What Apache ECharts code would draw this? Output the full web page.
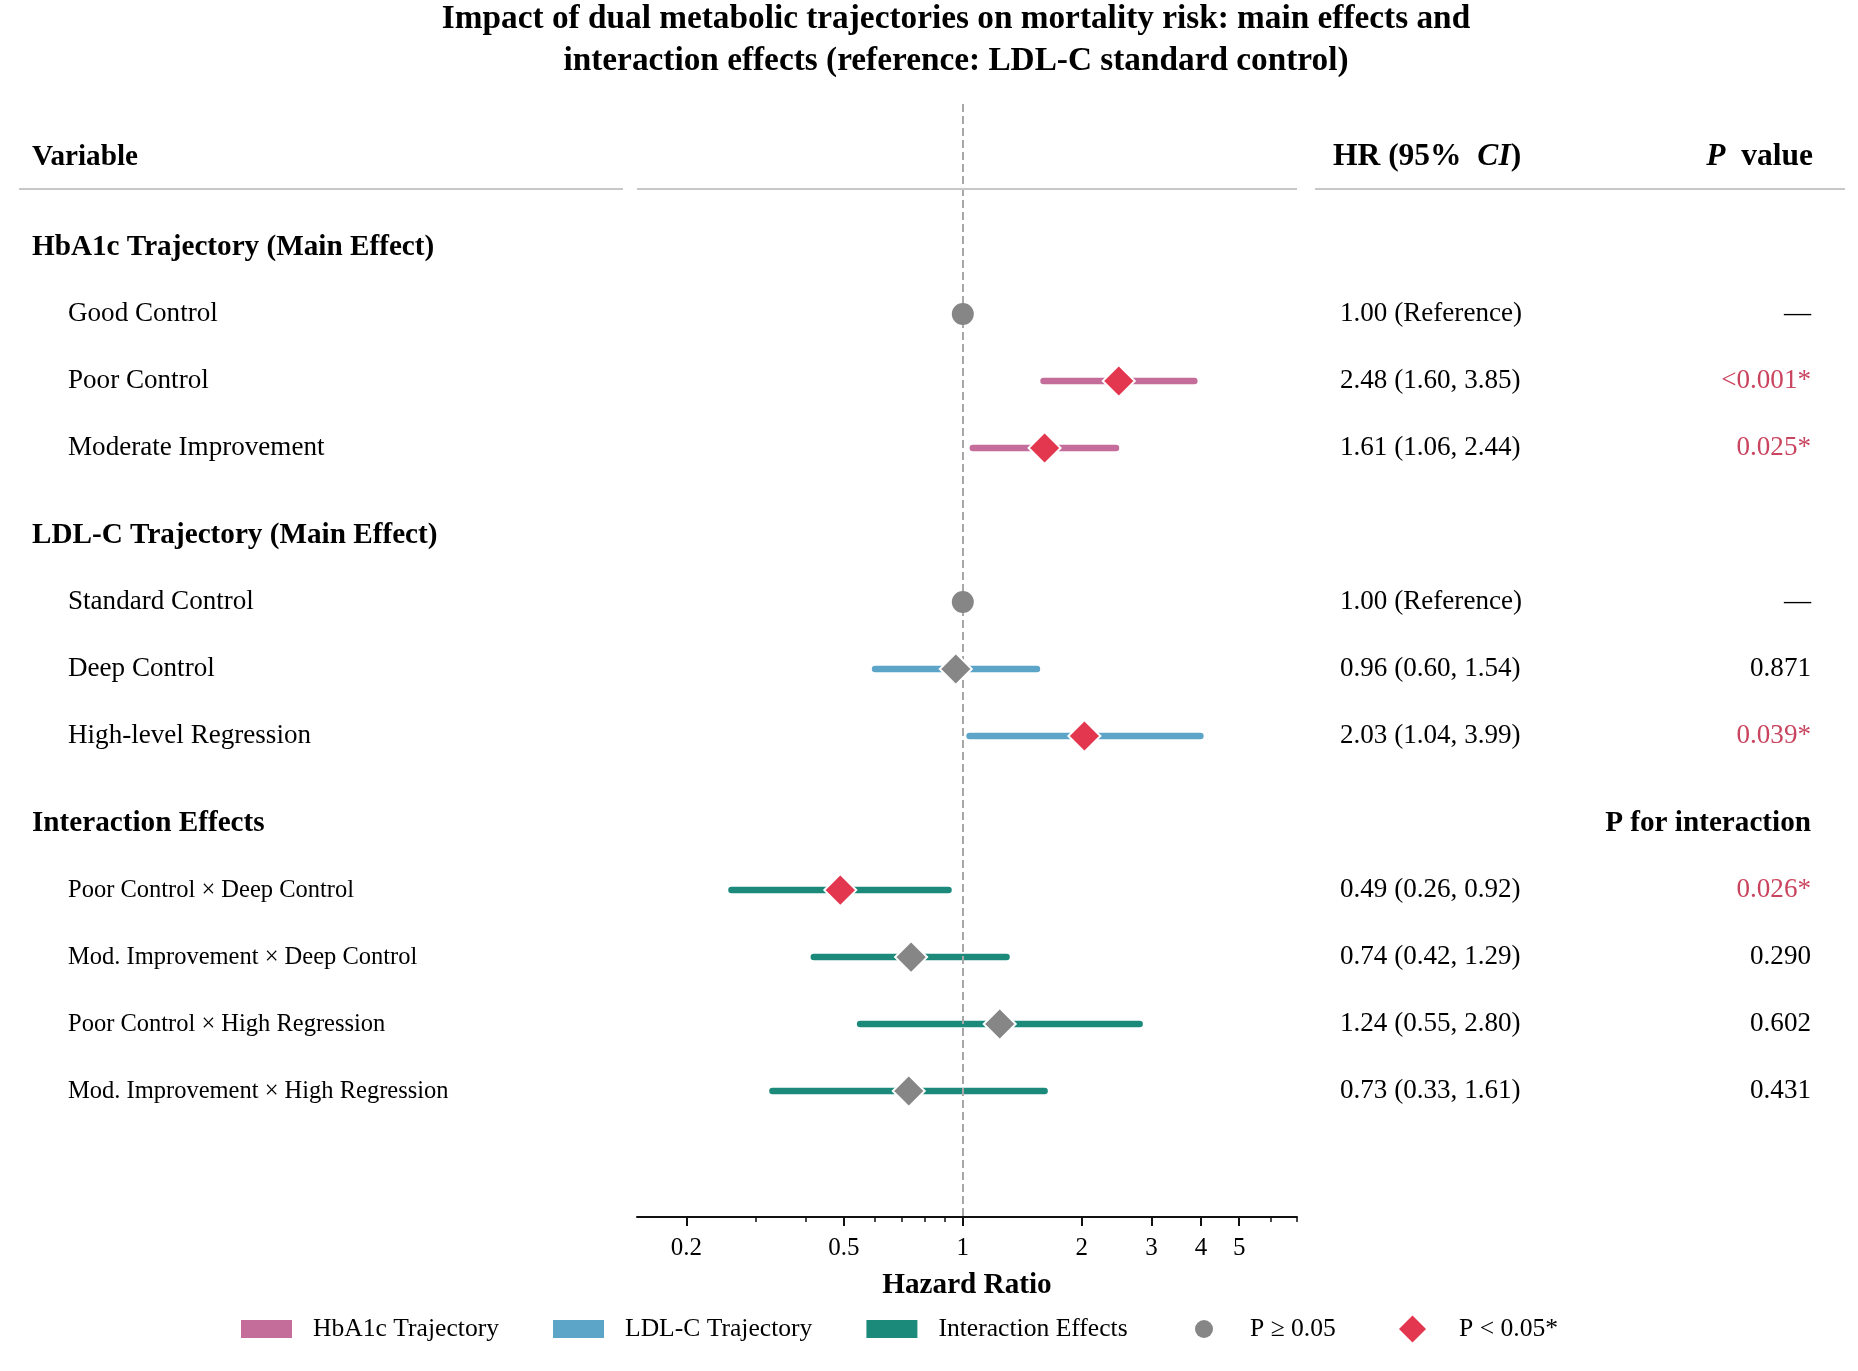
<!DOCTYPE html>
<html>
<head>
<meta charset="utf-8">
<title>Dual metabolic trajectories and mortality risk</title>
<script src="https://cdn.jsdelivr.net/npm/echarts@6/dist/echarts.min.js"></script>
<style>
  html, body { margin: 0; padding: 0; background: #fff; }
  #main { width: 1858px; height: 1371px; }
</style>
</head>
<body>
<div id="main"></div>
<script>
// ---- data ----
const groupNames = ['HbA1c Trajectory (Main Effect)', 'LDL-C Trajectory (Main Effect)', 'Interaction Effects'];
const legendNames = ['HbA1c Trajectory', 'LDL-C Trajectory', 'Interaction Effects'];
const groupColors = ['#c46c9a', '#5ca4c8', '#1b8a7b'];

const rowLabels = [
  'Good Control', 'Poor Control', 'Moderate Improvement',
  'Standard Control', 'Deep Control', 'High-level Regression',
  'Poor Control × Deep Control', 'Mod. Improvement × Deep Control',
  'Poor Control × High Regression', 'Mod. Improvement × High Regression'
];
const rowGroup = [0, 0, 0, 1, 1, 1, 2, 2, 2, 2];
const isReference = [true, false, false, true, false, false, false, false, false, false];
const hr = [1.00, 2.48, 1.61, 1.00, 0.96, 2.03, 0.49, 0.74, 1.24, 0.73];
const ciLow = [null, 1.60, 1.06, null, 0.60, 1.04, 0.26, 0.42, 0.55, 0.33];
const ciHigh = [null, 3.85, 2.44, null, 1.54, 3.99, 0.92, 1.29, 2.80, 1.61];
const pText = ['—', '<0.001*', '0.025*', '—', '0.871', '0.039*', '0.026*', '0.290', '0.602', '0.431'];
const significant = [false, true, true, false, false, true, true, false, false, false];

const majorTicks = [0.2, 0.5, 1, 2, 3, 4, 5];
const minorTicks = [0.3, 0.4, 0.6, 0.7, 0.8, 0.9, 6, 7];
const xRange = [0.15, 7];

// ---- layout helpers ----
const FONT = '"Liberation Serif", "Times New Roman", serif';
const INK = '#000';
const RED_TEXT = '#c9455f';
const HEAD_ROW = -1.34;
const HEAD_LINE = -0.866;

// vertical slots: header, then its rows, 1.3 gap before next header
const headerPos = [];
const rowPos = [];
(function () {
  let u = 0;
  groupNames.forEach((g, gi) => {
    headerPos.push(u);
    let last = u;
    rowLabels.forEach((r, i) => {
      if (rowGroup[i] === gi) { last += 1; rowPos[i] = last; }
    });
    u = last + 1.3;
  });
})();

const lg = Math.log10;
const yAxisBase = { type: 'value', min: -2.135, max: 14.48, inverse: true, show: false };
const headLine = () => ({
  silent: true, symbol: 'none', z: 1,
  label: { show: false },
  lineStyle: { color: '#c8c8c8', width: 2, type: 'solid' },
  data: [{ yAxis: HEAD_LINE }]
});

function boldRich(size) {
  return {
    b: { fontFamily: FONT, fontSize: size, fontWeight: 'bold', color: INK },
    bi: { fontFamily: FONT, fontSize: size, fontWeight: 'bold', fontStyle: 'italic', color: INK }
  };
}

// left column texts
const leftItems = [{
  value: [0, HEAD_ROW],
  label: { formatter: 'Variable', fontWeight: 'bold', fontSize: 29.2, distance: 13, color: INK }
}];
groupNames.forEach((g, gi) => {
  leftItems.push({
    value: [0, headerPos[gi]],
    label: { formatter: g, fontWeight: 'bold', fontSize: 29.2, distance: 13, color: INK }
  });
});
rowLabels.forEach((r, i) => {
  leftItems.push({
    value: [0, rowPos[i]],
    label: { formatter: r, fontSize: rowGroup[i] === 2 ? 24.5 : 27.1, distance: 49, color: INK }
  });
});

// right column texts
const rightItems = [
  {
    value: [0, HEAD_ROW],
    label: { position: 'right', distance: 18, formatter: '{b|HR (95%  }{bi|CI}{b|)}', rich: boldRich(31.5) }
  },
  {
    value: [1, HEAD_ROW],
    label: { position: 'left', distance: 32, formatter: '{bi|P}{b|  value}', rich: boldRich(31.5) }
  },
  {
    value: [1, headerPos[2]],
    label: { position: 'left', distance: 34, formatter: 'P for interaction', fontWeight: 'bold', fontSize: 29.2, color: INK }
  }
];
rowLabels.forEach((r, i) => {
  const t = isReference[i]
    ? hr[i].toFixed(2) + ' (Reference)'
    : hr[i].toFixed(2) + ' (' + ciLow[i].toFixed(2) + ', ' + ciHigh[i].toFixed(2) + ')';
  rightItems.push({
    value: [0, rowPos[i]],
    label: { position: 'right', distance: 25, formatter: t, fontSize: 27.1, color: INK }
  });
  rightItems.push({
    value: [1, rowPos[i]],
    label: {
      position: 'left', distance: 34, formatter: pText[i], fontSize: 27.1,
      color: significant[i] ? RED_TEXT : INK
    }
  });
});

// CI bars per group
const ciSeries = groupNames.map((g, gi) => ({
  name: legendNames[gi],
  type: 'custom',
  xAxisIndex: 1, yAxisIndex: 1,
  z: 2,
  silent: true,
  itemStyle: { color: groupColors[gi] },
  encode: { x: [0, 2], y: 1 },
  data: rowLabels.map((r, i) => i).filter(i => rowGroup[i] === gi && !isReference[i])
    .map(i => [lg(ciLow[i]), rowPos[i], lg(ciHigh[i])]),
  renderItem: function (params, api) {
    const a = api.coord([api.value(0), api.value(1)]);
    const b = api.coord([api.value(2), api.value(1)]);
    return {
      type: 'line',
      shape: { x1: a[0], y1: a[1], x2: b[0], y2: b[1] },
      style: { stroke: groupColors[gi], lineWidth: 6.5, lineCap: 'round' }
    };
  }
}));

const nsData = [];
const sigData = [];
rowLabels.forEach((r, i) => {
  const pt = [lg(hr[i]), rowPos[i]];
  if (significant[i]) {
    sigData.push({ value: pt });
  } else if (isReference[i]) {
    nsData.push({ value: pt, symbol: 'circle', symbolSize: 22 });
  } else {
    nsData.push({
      value: pt, symbol: 'diamond', symbolSize: 32,
      itemStyle: { borderColor: '#fff', borderWidth: 2 }
    });
  }
});

const legendText = { fontFamily: FONT, fontSize: 25.6, color: INK, lineHeight: 26 };

const chart = echarts.init(document.getElementById('main'));
const option = {
  animation: false,
  textStyle: { fontFamily: FONT, color: INK },
  graphic: [{
    type: 'text',
    x: 956, y: -2,
    style: {
      text: 'Impact of dual metabolic trajectories on mortality risk: main effects and\ninteraction effects (reference: LDL-C standard control)',
      font: 'bold 33.3px ' + FONT,
      fill: INK,
      align: 'center',
      verticalAlign: 'top',
      lineHeight: 42
    }
  }],
  grid: [
    { left: 19, top: 104, width: 604, height: 1113 },
    { left: 637, top: 104, width: 660, height: 1113 },
    { left: 1315, top: 104, width: 530, height: 1113 }
  ],
  xAxis: [
    { gridIndex: 0, type: 'value', min: 0, max: 1, show: false },
    {
      gridIndex: 1, type: 'value', position: 'bottom',
      min: lg(xRange[0]), max: lg(xRange[1]),
      splitLine: { show: false },
      axisLine: { show: true, onZero: false, lineStyle: { color: '#111', width: 2 } },
      axisTick: { show: true, customValues: majorTicks.map(lg), length: 9, lineStyle: { color: '#111', width: 2 } },
      axisLabel: {
        customValues: majorTicks.map(lg),
        fontSize: 25, color: INK, margin: 19, fontFamily: FONT,
        formatter: v => String(+Math.pow(10, v).toFixed(2))
      },
      name: 'Hazard Ratio',
      nameLocation: 'middle',
      nameGap: 54,
      nameTextStyle: { fontSize: 29.2, fontWeight: 'bold', color: INK, fontFamily: FONT }
    },
    {
      gridIndex: 1, type: 'value', position: 'bottom',
      min: lg(xRange[0]), max: lg(xRange[1]),
      splitLine: { show: false },
      axisLine: { show: false, onZero: false },
      axisTick: { show: true, customValues: minorTicks.map(lg), length: 5, lineStyle: { color: '#111', width: 1.5 } },
      axisLabel: { show: false }
    },
    { gridIndex: 2, type: 'value', min: 0, max: 1, show: false }
  ],
  yAxis: [
    Object.assign({ gridIndex: 0 }, yAxisBase),
    Object.assign({ gridIndex: 1 }, yAxisBase),
    Object.assign({ gridIndex: 2 }, yAxisBase)
  ],
  legend: [
    {
      data: legendNames,
      left: 241, top: 1316, padding: 0,
      icon: 'rect', itemWidth: 51, itemHeight: 18, itemGap: 54,
      itemStyle: { borderWidth: 0 },
      textStyle: Object.assign({ padding: [0, 0, 0, 16] }, legendText),
      selectedMode: false
    },
    {
      data: ['P ≥ 0.05'],
      left: 1195, top: 1316, padding: 0,
      icon: 'circle', itemWidth: 18, itemHeight: 18,
      itemStyle: { borderWidth: 0 },
      textStyle: Object.assign({ padding: [0, 0, 0, 32] }, legendText),
      selectedMode: false
    },
    {
      data: ['P < 0.05*'],
      left: 1399, top: 1315.5, padding: 0,
      icon: 'diamond', itemWidth: 27, itemHeight: 27,
      itemStyle: { borderWidth: 0 },
      textStyle: Object.assign({ padding: [0, 0, 0, 28] }, legendText, { lineHeight: 27 }),
      selectedMode: false
    }
  ],
  series: [
    {
      name: 'left-text', type: 'scatter', xAxisIndex: 0, yAxisIndex: 0,
      symbolSize: 0, clip: false, silent: true,
      itemStyle: { opacity: 1 },
      label: { show: true, position: 'right', color: INK, fontFamily: FONT },
      data: leftItems,
      markLine: headLine()
    },
    ...ciSeries,
    {
      name: 'guides', type: 'scatter', xAxisIndex: 1, yAxisIndex: 1,
      data: [], silent: true,
      markLine: {
        silent: true, symbol: 'none', z: 3,
        label: { show: false },
        data: [
          { xAxis: 0, lineStyle: { color: '#a8a8a8', width: 2, type: [8, 4] } },
          { yAxis: HEAD_LINE, lineStyle: { color: '#c8c8c8', width: 2, type: 'solid' } }
        ]
      }
    },
    {
      name: 'P ≥ 0.05', type: 'scatter', xAxisIndex: 1, yAxisIndex: 1,
      symbol: 'circle', symbolSize: 22, z: 4, silent: true,
      itemStyle: { color: '#868686', opacity: 1 },
      data: nsData
    },
    {
      name: 'P < 0.05*', type: 'scatter', xAxisIndex: 1, yAxisIndex: 1,
      symbol: 'diamond', symbolSize: 32, z: 4, silent: true,
      itemStyle: { color: '#e3364f', borderColor: '#fff', borderWidth: 2, opacity: 1 },
      data: sigData
    },
    {
      name: 'right-text', type: 'scatter', xAxisIndex: 3, yAxisIndex: 2,
      symbolSize: 0, clip: false, silent: true,
      itemStyle: { opacity: 1 },
      label: { show: true, color: INK, fontFamily: FONT },
      data: rightItems,
      markLine: headLine()
    }
  ]
};
chart.setOption(option);
</script>
</body>
</html>
